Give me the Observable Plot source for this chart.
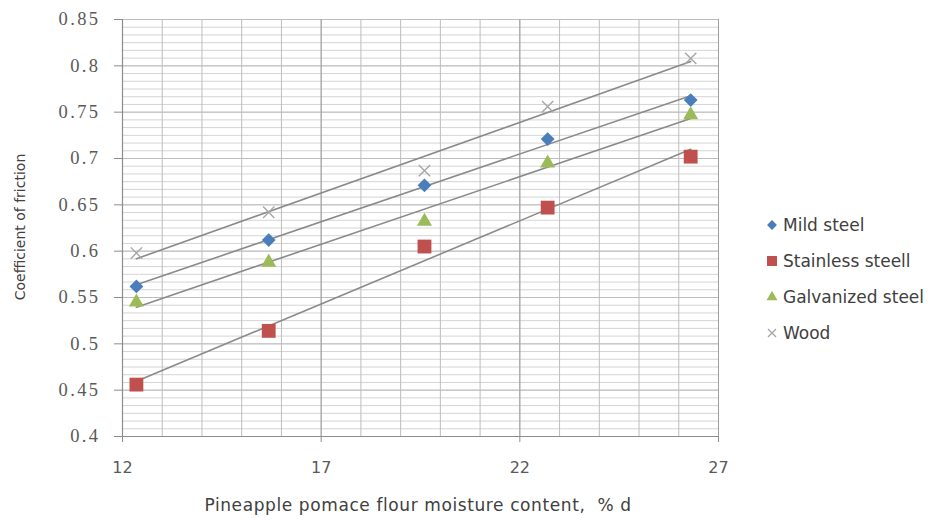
<!DOCTYPE html>
<html>
<head>
<meta charset="utf-8">
<script src="https://cdn.jsdelivr.net/npm/d3@7"></script>
<script src="https://cdn.jsdelivr.net/npm/@observablehq/plot@0.6"></script>
<style>
  html, body { margin: 0; padding: 0; background: #fff; }
  #wrap { position: relative; width: 936px; height: 518px; overflow: hidden; }
  #legend { position: absolute; left: 764px; top: 207px; font-family: "DejaVu Sans", sans-serif; font-size: 17px; color: #404040; }
  #legend .item { display: flex; align-items: center; height: 36px; white-space: nowrap; }
  #legend svg { margin-right: 3px; }
  .axtitle { position: absolute; font-family: "DejaVu Sans", sans-serif; color: #404040; white-space: pre; }
  #xtitle { left: 418px; top: 505px; font-size: 17px; letter-spacing: 0.6px; transform: translate(-50%, -50%); }
  #ytitle { left: 20px; top: 227px; font-size: 14px; transform: translate(-50%, -50%) rotate(-90deg); }
</style>
</head>
<body>
<div id="wrap">
  <div id="legend"></div>
  <div class="axtitle" id="xtitle"></div>
  <div class="axtitle" id="ytitle"></div>
</div>
<script>
// ---- data ----
const moisture = [12.35, 15.68, 19.6, 22.7, 26.3];
const mildSteel = [0.562, 0.612, 0.671, 0.721, 0.763];
const stainlessSteel = [0.456, 0.514, 0.605, 0.647, 0.702];
const galvanizedSteel = [0.545, 0.588, 0.632, 0.695, 0.747];
const wood = [0.598, 0.642, 0.687, 0.756, 0.808];
const seriesNames = ["Mild steel", "Stainless steell", "Galvanized steel", "Wood"];
const xTicks = [12, 17, 22, 27];
const yTicks = [0.4, 0.45, 0.5, 0.55, 0.6, 0.65, 0.7, 0.75, 0.8, 0.85];
const xTitle = "Pineapple pomace flour moisture content,  % d";
const yTitle = "Coefficient of friction";

const seriesValues = [mildSteel, stainlessSteel, galvanizedSteel, wood];
const colors = ["#4a7ebb", "#c0504d", "#9bbb59", "#a6a6a6"];

const data = [];
seriesNames.forEach((s, i) => moisture.forEach((x, j) => data.push({series: s, x, y: seriesValues[i][j]})));

// square-ish diamond symbol
const diamondSym = { draw(ctx, size) { const r = Math.sqrt(size / 2); ctx.moveTo(0, -r); ctx.lineTo(r, 0); ctx.lineTo(0, r); ctx.lineTo(-r, 0); ctx.closePath(); } };
const symbols = [diamondSym, d3.symbolSquare, d3.symbolTriangle, d3.symbolTimes];
const sizes = [5.5, 7.8, 5.6, 5.2];

const minorY = d3.range(0, 55).map(i => 0.4 + i * 0.05 / 6).filter(v => v <= 0.8501);
const minorX = d3.range(12, 28);

const bySeries = s => data.filter(d => d.series === s);

const marks = [
  Plot.ruleY(minorY, {stroke: "#d4d4d4", strokeWidth: 1}),
  Plot.ruleY(yTicks, {stroke: "#bdbdbd", strokeWidth: 1}),
  Plot.ruleX(minorX, {stroke: "#bdbdbd", strokeWidth: 1}),
  Plot.ruleX(xTicks.slice(1), {stroke: "#a0a0a0", strokeWidth: 1}),
  Plot.ruleX([12], {stroke: "#8c8c8c", strokeWidth: 1.2}),
  Plot.ruleY([0.4], {stroke: "#8c8c8c", strokeWidth: 1.2}),
  Plot.axisY({ticks: yTicks, tickFormat: d => String(+d.toFixed(2)), tickSize: 8, stroke: "#8c8c8c", text: null, label: null}),
  Plot.text(yTicks, {x: 12, y: d => d, text: d => String(+d.toFixed(2)), textAnchor: "end", dx: -22,
    fill: "#595959", fontFamily: "Liberation Serif, DejaVu Serif, serif", fontSize: 18.5}),
  Plot.axisX({ticks: xTicks, tickSize: 6, tickPadding: 19, stroke: "#8c8c8c", fill: "#595959", label: null,
    fontFamily: "DejaVu Sans, sans-serif", fontSize: 16}),
];
seriesNames.forEach((s, i) => {
  marks.push(Plot.linearRegressionY(bySeries(s), {x: "x", y: "y", ci: 0, stroke: "#8a8a8a", strokeWidth: 1.6}));
});
seriesNames.forEach((s, i) => {
  const isTimes = i === 3;
  marks.push(Plot.dot(bySeries(s), {x: "x", y: "y", symbol: () => symbols[i], r: sizes[i],
    fill: isTimes ? "none" : colors[i], stroke: isTimes ? colors[i] : "none", strokeWidth: isTimes ? 1.4 : 0}));
});

const chart = Plot.plot({
  width: 936, height: 518,
  marginLeft: 122, marginRight: 218, marginTop: 19, marginBottom: 82,
  style: {fontFamily: "DejaVu Sans, sans-serif", color: "#404040", background: "#fff", overflow: "visible"},
  x: {domain: [12, 27]},
  y: {domain: [0.4, 0.85]},
  symbol: {type: "identity"},
  marks
});
chart.style.position = "absolute";
chart.style.left = "0px";
chart.style.top = "0px";
const wrap = document.getElementById("wrap");
wrap.insertBefore(chart, wrap.firstChild);

// widen y tick labels slightly
d3.select(chart).selectAll("text").each(function() {
  const t = d3.select(this);
  if (/^0\.\d+$/.test(t.text())) t.style("letter-spacing", "2.4px");
});

document.getElementById("xtitle").textContent = xTitle;
document.getElementById("ytitle").textContent = yTitle;

// legend
const legend = d3.select("#legend");
seriesNames.forEach((s, i) => {
  const item = legend.append("div").attr("class", "item");
  const svg = item.append("svg").attr("width", 16).attr("height", 16);
  const sz = Math.PI * (sizes[i] * 0.72) ** 2;
  const isTimes = i === 3;
  svg.append("path").attr("transform", "translate(8,8)").attr("d", d3.symbol(symbols[i], sz)())
    .attr("fill", isTimes ? "none" : colors[i]).attr("stroke", isTimes ? colors[i] : "none").attr("stroke-width", 1.3);
  item.append("span").text(s);
});
</script>
</body>
</html>
